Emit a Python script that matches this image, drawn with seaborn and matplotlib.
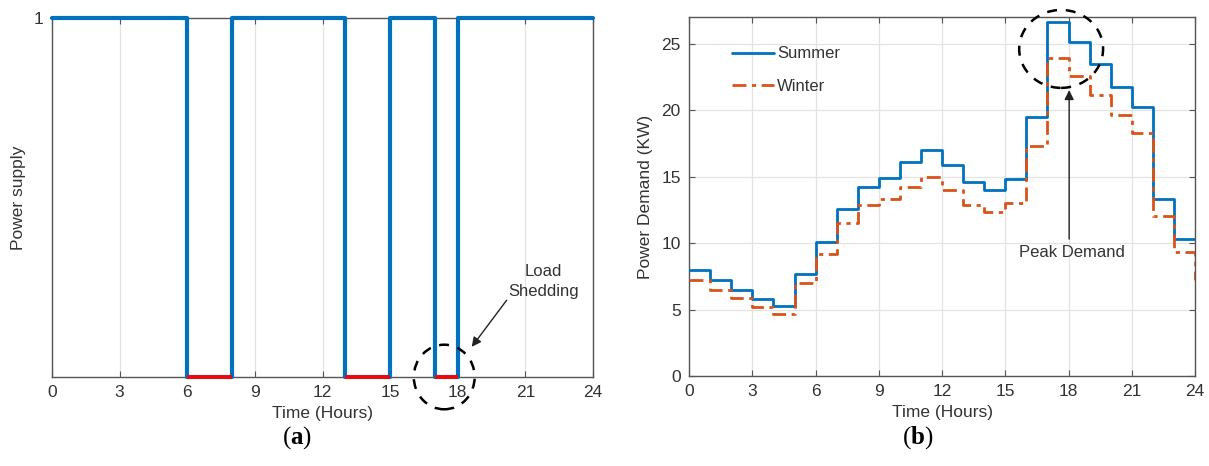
import numpy as np
import pandas as pd
import matplotlib
matplotlib.use("Agg")
import matplotlib.pyplot as plt
from matplotlib.patches import Ellipse
import seaborn as sns

# ---------------- data ----------------
hours = list(range(0, 25))
supply = [1, 1, 1, 1, 1, 1, 0, 0, 1, 1, 1, 1, 1, 0, 0, 1, 1, 0, 1, 1, 1, 1, 1, 1, 1]
summer = [8.0, 7.2, 6.5, 5.8, 5.3, 7.7, 10.1, 12.6, 14.2, 14.9, 16.1, 17.0,
          15.9, 14.6, 14.0, 14.8, 19.5, 26.6, 25.1, 23.5, 21.7, 20.2, 13.3, 10.3, 10.3]
winter = [7.2, 6.5, 5.9, 5.2, 4.7, 7.0, 9.2, 11.5, 12.9, 13.3, 14.2, 15.0,
          14.0, 12.9, 12.3, 13.0, 17.3, 23.9, 22.6, 21.1, 19.6, 18.3, 12.0, 9.3, 7.2]
xticks = [0, 3, 6, 9, 12, 15, 18, 21, 24]
yticks_b = [0, 5, 10, 15, 20, 25]

# ---------------- style ----------------
sns.set_theme(style="white")
plt.rcParams['font.family'] = ['Liberation Sans', 'DejaVu Sans']
plt.rcParams['mathtext.fontset'] = 'custom'
plt.rcParams['mathtext.bf'] = 'Liberation Serif:bold'
plt.rcParams['mathtext.rm'] = 'Liberation Serif'

BLUE = '#0072BD'
ORANGE = '#D95319'
TXT = '#333333'
SPINE = '#555555'
GRID = '#e3e3e3'
FS = 12.5

fig = plt.figure(figsize=(12.09, 4.66), dpi=100)
ax1 = fig.add_axes([0.043, 0.191, 0.4475, 0.770])
ax2 = fig.add_axes([0.570, 0.193, 0.4184, 0.7705])

# ---------------- panel (a) ----------------
sns.lineplot(x=hours, y=supply, drawstyle='steps-post', color=BLUE, lw=3.0,
             ax=ax1, clip_on=False, zorder=3)
for i in range(len(supply) - 1):
    if supply[i] == 0:
        ax1.hlines(0, hours[i], hours[i + 1], color='#ff0000', lw=2.6,
                   zorder=4, clip_on=False)
ax1.set_xlim(0, 24)
ax1.set_ylim(0, 1)
ax1.set_xticks(xticks)
ax1.set_yticks([1])
ax1.xaxis.grid(True, color=GRID, lw=0.9)
ax1.set_axisbelow(True)
ax1.set_xlabel('Time (Hours)', fontsize=FS, color=TXT, labelpad=4)
ax1.set_ylabel('Power supply', fontsize=FS, color=TXT, labelpad=6)

ax1.add_patch(Ellipse((17.4, 0.0), 2.7, 0.18, fill=False, edgecolor='black',
                      lw=1.8, ls=(0, (4, 3.5)), clip_on=False, zorder=5))
ax1.annotate('', xy=(18.62, 0.084), xytext=(20.17, 0.214),
             arrowprops=dict(arrowstyle='-|>', color='#222222', lw=1.0,
                             mutation_scale=14, shrinkA=0, shrinkB=0))
ax1.text(21.8, 0.267, 'Load\nShedding', ha='center', va='center',
         fontsize=12, color=TXT, linespacing=1.4)

# ---------------- panel (b) ----------------
sns.lineplot(x=hours, y=summer, drawstyle='steps-post', color=BLUE, lw=2.0,
             ax=ax2, label='Summer', zorder=3)
sns.lineplot(x=hours, y=winter, drawstyle='steps-post', color=ORANGE, lw=2.0,
             ax=ax2, label='Winter', zorder=3, dashes=False)
ax2.get_lines()[1].set_linestyle((0, (5, 2, 1.5, 2)))
ax2.set_xlim(0, 24)
ax2.set_ylim(0, 27)
ax2.set_xticks(xticks)
ax2.set_yticks(yticks_b)
ax2.grid(True, color=GRID, lw=0.9)
ax2.set_axisbelow(True)
ax2.set_xlabel('Time (Hours)', fontsize=FS, color=TXT, labelpad=4)
ax2.set_ylabel('Power Demand (KW)', fontsize=FS, color=TXT, labelpad=6)
leg = ax2.legend(loc='upper left', bbox_to_anchor=(0.055, 0.96), frameon=False,
                 fontsize=12, handlelength=2.5, handletextpad=0.2, labelspacing=1.05)
for t in leg.get_texts():
    t.set_color(TXT)

ax2.add_patch(Ellipse((17.65, 24.6), 3.98, 5.86, fill=False, edgecolor='black',
                      lw=1.8, ls=(0, (4, 3.5)), clip_on=False, zorder=5))
ax2.annotate('', xy=(18.03, 21.5), xytext=(18.03, 10.3),
             arrowprops=dict(arrowstyle='-|>', color='#222222', lw=1.0,
                             mutation_scale=14, shrinkA=0, shrinkB=0))
ax2.text(18.17, 9.3, 'Peak Demand', ha='center', va='center', fontsize=12, color=TXT)

# ---------------- common axes style ----------------
for ax in (ax1, ax2):
    for s in ax.spines.values():
        s.set_visible(True)
        s.set_color(SPINE)
        s.set_linewidth(1.0)
    ax.tick_params(direction='in', length=4, width=0.8, colors=SPINE,
                   labelcolor=TXT, labelsize=FS, top=True, right=True,
                   bottom=True, left=True, pad=6)

fig.text(0.2457, 0.062, r'($\mathbf{a}$)', ha='center', va='center',
         fontsize=18, family='Liberation Serif', color='black')
fig.text(0.759, 0.062, r'($\mathbf{b}$)', ha='center', va='center',
         fontsize=18, family='Liberation Serif', color='black')

fig.savefig('out.png', dpi=100)
